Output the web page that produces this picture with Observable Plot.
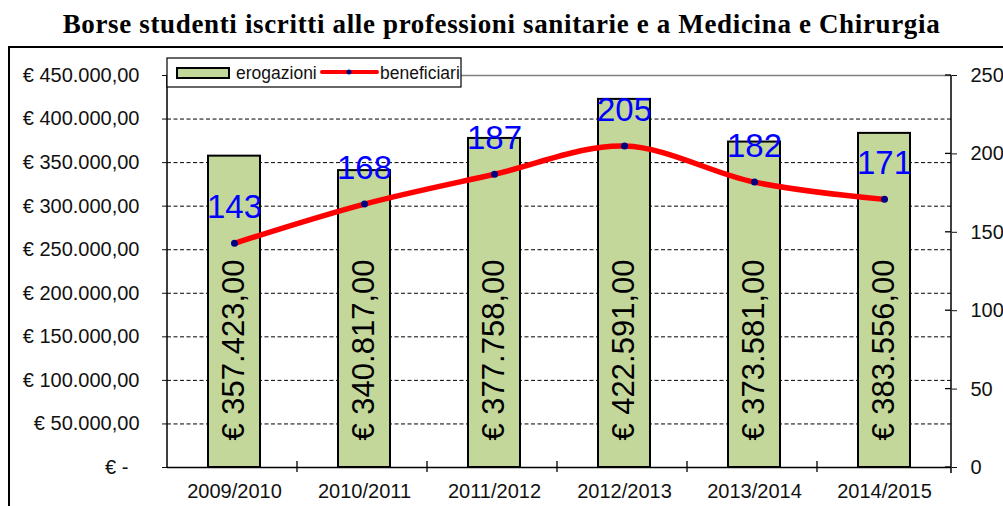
<!DOCTYPE html>
<html><head><meta charset="utf-8">
<script src="https://cdn.jsdelivr.net/npm/d3@7"></script>
<script src="https://cdn.jsdelivr.net/npm/@observablehq/plot@0.6"></script>
<style>
body{margin:0;background:#fff;width:1003px;height:506px;overflow:hidden;font-family:"Liberation Sans",Arial,sans-serif}
#title{height:37px;padding-top:9px;line-height:1;text-align:center;font:bold 27px "Liberation Serif","Times New Roman",serif;letter-spacing:0.65px;color:#000;white-space:nowrap}
#chart svg{display:block;overflow:visible}
</style></head><body>
<div id="title">Borse studenti iscritti alle professioni sanitarie e a Medicina e Chirurgia</div>
<div id="chart"></div>
<script>
const anni = ["2009/2010","2010/2011","2011/2012","2012/2013","2013/2014","2014/2015"];
const erogazioni = [357423, 340817, 377758, 422591, 373581, 383556];
const beneficiari = [143, 168, 187, 205, 182, 171];
const euroTicks = [0, 50000, 100000, 150000, 200000, 250000, 300000, 350000, 400000, 450000];
const benTicks = [0, 50, 100, 150, 200, 250];
const serieNomi = ["erogazioni", "beneficiari"];

const k = euroTicks[euroTicks.length-1] / benTicks[benTicks.length-1];
const data = anni.map((a,i)=>({anno:a, erog:erogazioni[i], ben:beneficiari[i]}));
const it = d3.formatLocale({decimal:",", thousands:".", grouping:[3], currency:["€ ",""]});
const fmt = it.format(",.2f");
const euro = v => v === 0 ? "€ -\u00a0\u00a0" : "€ " + fmt(v);
const verde = "#c4d79b", rosso = "#ff0000", blu = "#0000ff", navy = "#000080";

const plot = Plot.plot({
  width: 1003, height: 460,
  marginLeft: 167, marginRight: 52, marginTop: 29, marginBottom: 39,
  style: {fontFamily: "Liberation Sans, Arial, sans-serif", fontSize: "20px", color: "#111", background: "#fff", overflow: "visible"},
  x: {domain: anni, paddingInner: 0.6, paddingOuter: 0.3, label: null},
  y: {domain: [0, euroTicks[euroTicks.length-1]], label: null},
  marks: [
    Plot.gridY(euroTicks.slice(1, -1), {stroke: "#000", strokeOpacity: 1, strokeDasharray: "4,2.5"}),
    Plot.barY(data, {x: "anno", y: "erog", fill: verde, stroke: "#000", strokeWidth: 2}),
    Plot.text(data, {x: "anno", y: 0, text: d => euro(d.erog), rotate: -90, textAnchor: "start", lineAnchor: "middle", dy: -27, fontSize: 31, fill: "#000"}),
    Plot.ruleY([euroTicks[euroTicks.length-1]], {stroke: "#808080", strokeWidth: 1.5}),
    Plot.ruleY([0], {stroke: "#000", strokeWidth: 1.5}),
    Plot.line(data, {x: "anno", y: d => d.ben * k, stroke: rosso, strokeWidth: 5.5, curve: "catmull-rom"}),
    Plot.dot(data, {x: "anno", y: d => d.ben * k, r: 3.5, fill: navy, stroke: "none"}),
    Plot.text(data, {x: "anno", y: d => d.ben * k, text: "ben", dy: -36, fontSize: 33, fill: blu, lineAnchor: "middle"}),
    Plot.axisY({anchor: "left", ticks: euroTicks, tickFormat: euro, tickSize: 5, tickPadding: 23, fontSize: 20}),
    Plot.axisY({anchor: "right", ticks: benTicks.map(v => v * k), tickFormat: v => String(Math.round(v / k)), tickSize: 5, tickPadding: 14, fontSize: 20, textAnchor: "start"}),
    Plot.axisX({tickSize: 0, tickPadding: 16, fontSize: 20})
  ]
});
document.getElementById("chart").appendChild(plot);

const svg = d3.select(plot);
const xs = plot.scale("x"), ys = plot.scale("y");
const [x0, x1] = xs.range;
const y0 = ys.apply(0), yTop = ys.apply(euroTicks[euroTicks.length-1]);
const g = svg.append("g").attr("stroke", "#000");
// axis lines
g.append("line").attr("x1", x0).attr("x2", x0).attr("y1", yTop).attr("y2", y0 + 1).attr("stroke-width", 1.5);
g.append("line").attr("x1", x1).attr("x2", x1).attr("y1", yTop).attr("y2", y0 + 6).attr("stroke-width", 1.5);
// inward ticks on right axis
benTicks.forEach(v => {
  const y = ys.apply(v * k);
  g.append("line").attr("x1", x1 - 6).attr("x2", x1).attr("y1", y).attr("y2", y).attr("stroke-width", 1.3);
});
// category boundary ticks
for (let i = 1; i < anni.length; i++) {
  const x = x0 + i * xs.step;
  g.append("line").attr("x1", x).attr("x2", x).attr("y1", y0 - 6).attr("y2", y0 + 5).attr("stroke-width", 1.3);
}
// outer frame
g.append("line").attr("x1", 9).attr("x2", 1003).attr("y1", 1).attr("y2", 1).attr("stroke-width", 2);
g.append("line").attr("x1", 9).attr("x2", 9).attr("y1", 0).attr("y2", 460).attr("stroke-width", 2);

// legend
const L = svg.append("g").attr("font-family", "Liberation Sans, Arial, sans-serif").attr("font-size", 17.5).attr("text-anchor", "start");
const lx = x0, ly = 12, lw = 294, lh = 29;
L.append("rect").attr("x", lx).attr("y", ly).attr("width", lw).attr("height", lh).attr("fill", "#fff");
L.append("rect").attr("x", lx + 10).attr("y", ly + 10).attr("width", 52).attr("height", 10).attr("fill", verde).attr("stroke", "#000").attr("stroke-width", 2);
L.append("text").attr("x", lx + 69).attr("y", ly + 21).attr("fill", "#111").text(serieNomi[0]);
L.append("line").attr("x1", lx + 155).attr("x2", lx + 210).attr("y1", ly + 14).attr("y2", ly + 14).attr("stroke", rosso).attr("stroke-width", 4).attr("stroke-linecap", "round");
L.append("circle").attr("cx", lx + 182).attr("cy", ly + 14).attr("r", 2.5).attr("fill", navy);
const clipId = "legclip";
svg.append("defs").append("clipPath").attr("id", clipId).append("rect").attr("x", lx).attr("y", ly).attr("width", lw).attr("height", lh);
L.append("text").attr("x", lx + 213).attr("y", ly + 21).attr("fill", "#111").attr("clip-path", `url(#${clipId})`).text(serieNomi[1]);
L.append("rect").attr("x", lx).attr("y", ly).attr("width", lw).attr("height", lh).attr("fill", "none").attr("stroke", "#000").attr("stroke-width", 1.2);
</script>
</body></html>
